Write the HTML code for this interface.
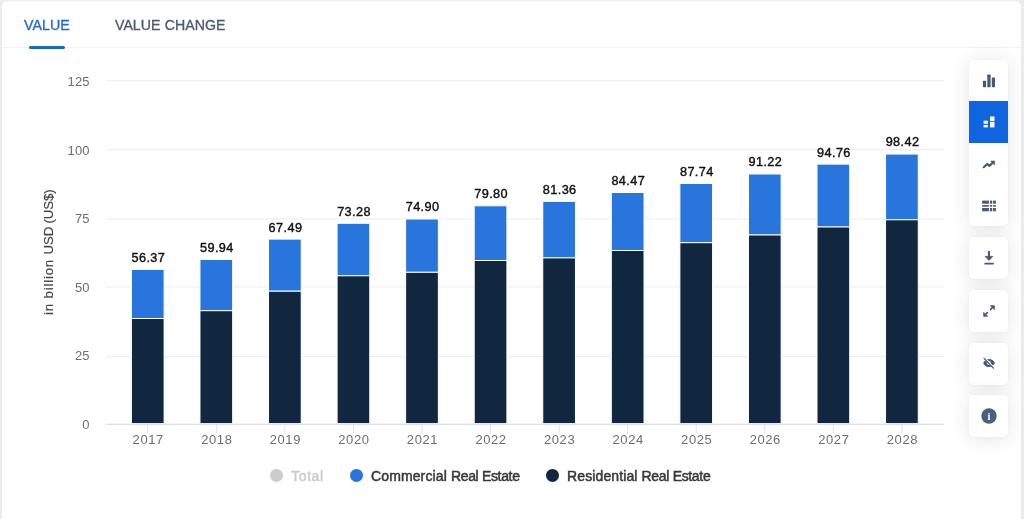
<!DOCTYPE html>
<html lang="en">
<head>
<meta charset="utf-8">
<title>Real Estate market value</title>
<style>
html,body{margin:0;padding:0;}
body{width:1024px;height:519px;overflow:hidden;background:#ececed;position:relative;font-family:"Liberation Sans",sans-serif;}
.card{position:absolute;left:2.3px;top:1px;width:1018.7px;height:540px;background:#fff;border-radius:5px 5px 0 0;}
.tab{position:absolute;top:14.6px;font-size:15px;line-height:20px;font-weight:400;white-space:nowrap;-webkit-text-stroke:0.35px currentColor;transform-origin:0 50%;}
.t1{left:24.2px;color:#1f6bc6;transform:scaleX(0.95);}
.t2{left:114.5px;color:#4b5b72;transform:scaleX(0.943);word-spacing:0.6px;}
.divider{position:absolute;left:2.3px;top:47px;width:1018.7px;height:1px;background:#f1f2f4;}
.ul{position:absolute;left:29px;top:46px;width:36px;height:3px;border-radius:1.5px;background:#1869c6;}
svg.chart{position:absolute;left:0;top:0;}
.ax{font-size:13px;fill:#6e6e6e;letter-spacing:0.2px;}
.xl{letter-spacing:0.6px;}
.dl{font-size:12.7px;fill:#111;letter-spacing:0.4px;stroke:#111;stroke-width:0.4px;}
.yt{font-size:13.3px;fill:#444;letter-spacing:0.37px;stroke:#444;stroke-width:0.15px;}
.lg{font-size:14px;letter-spacing:-0.12px;stroke-width:0.5px;}
.grp{position:absolute;left:969px;width:39px;background:#fff;border-radius:5px;box-shadow:0 2px 20px rgba(30,40,60,0.12),0 0 3px rgba(30,40,60,0.04);overflow:hidden;}
.btn{position:relative;width:39px;height:41.7px;}
.btn.first{height:40.6px;}
.btn.single{height:42px;}
.btn.on{background:#0f64df;}
.btn svg{position:absolute;left:50%;top:50%;transform:translate(-50%,-50%);}
</style>
</head>
<body>
<div class="card"></div>
<div class="divider"></div>
<div class="tab t1">VALUE</div>
<div class="tab t2">VALUE CHANGE</div>
<div class="ul"></div>
<svg class="chart" width="1024" height="519" viewBox="0 0 1024 519" font-family="'Liberation Sans', sans-serif">
<line x1="107" x2="944" y1="80.45" y2="80.45" stroke="#ebebed" stroke-width="1"/>
<line x1="107" x2="944" y1="149.70" y2="149.70" stroke="#ebebed" stroke-width="1"/>
<line x1="107" x2="944" y1="218.90" y2="218.90" stroke="#ebebed" stroke-width="1"/>
<line x1="107" x2="944" y1="286.90" y2="286.90" stroke="#ebebed" stroke-width="1"/>
<line x1="107" x2="944" y1="356.50" y2="356.50" stroke="#ebebed" stroke-width="1"/>
<text class="ax" x="89.8" y="429.00" text-anchor="end">0</text>
<text class="ax" x="89.8" y="360.41" text-anchor="end">25</text>
<text class="ax" x="89.8" y="291.82" text-anchor="end">50</text>
<text class="ax" x="89.8" y="223.24" text-anchor="end">75</text>
<text class="ax" x="89.8" y="154.65" text-anchor="end">100</text>
<text class="ax" x="89.8" y="86.06" text-anchor="end">125</text>
<rect x="131.40" y="269.40" width="32.7" height="49.10" fill="#2876dd" stroke="#fff" stroke-width="1"/>
<rect x="131.40" y="318.50" width="32.7" height="105.10" fill="#10273f" stroke="#fff" stroke-width="1"/>
<text class="dl" x="148.35" y="261.80" text-anchor="middle">56.37</text>
<line x1="147.75" x2="147.75" y1="424.25" y2="433.75" stroke="#e0e2ea" stroke-width="1"/>
<text class="ax xl" x="148.25" y="444.15" text-anchor="middle">2017</text>
<rect x="199.96" y="259.50" width="32.7" height="51.20" fill="#2876dd" stroke="#fff" stroke-width="1"/>
<rect x="199.96" y="310.70" width="32.7" height="112.90" fill="#10273f" stroke="#fff" stroke-width="1"/>
<text class="dl" x="216.91" y="251.90" text-anchor="middle">59.94</text>
<line x1="216.31" x2="216.31" y1="424.25" y2="433.75" stroke="#e0e2ea" stroke-width="1"/>
<text class="ax xl" x="216.81" y="444.15" text-anchor="middle">2018</text>
<rect x="268.52" y="239.10" width="32.7" height="52.10" fill="#2876dd" stroke="#fff" stroke-width="1"/>
<rect x="268.52" y="291.20" width="32.7" height="132.40" fill="#10273f" stroke="#fff" stroke-width="1"/>
<text class="dl" x="285.47" y="231.50" text-anchor="middle">67.49</text>
<line x1="284.87" x2="284.87" y1="424.25" y2="433.75" stroke="#e0e2ea" stroke-width="1"/>
<text class="ax xl" x="285.37" y="444.15" text-anchor="middle">2019</text>
<rect x="337.08" y="223.30" width="32.7" height="52.50" fill="#2876dd" stroke="#fff" stroke-width="1"/>
<rect x="337.08" y="275.80" width="32.7" height="147.80" fill="#10273f" stroke="#fff" stroke-width="1"/>
<text class="dl" x="354.03" y="215.70" text-anchor="middle">73.28</text>
<line x1="353.43" x2="353.43" y1="424.25" y2="433.75" stroke="#e0e2ea" stroke-width="1"/>
<text class="ax xl" x="353.93" y="444.15" text-anchor="middle">2020</text>
<rect x="405.64" y="219.00" width="32.7" height="53.30" fill="#2876dd" stroke="#fff" stroke-width="1"/>
<rect x="405.64" y="272.30" width="32.7" height="151.30" fill="#10273f" stroke="#fff" stroke-width="1"/>
<text class="dl" x="422.59" y="211.40" text-anchor="middle">74.90</text>
<line x1="421.99" x2="421.99" y1="424.25" y2="433.75" stroke="#e0e2ea" stroke-width="1"/>
<text class="ax xl" x="422.49" y="444.15" text-anchor="middle">2021</text>
<rect x="474.20" y="205.80" width="32.7" height="54.70" fill="#2876dd" stroke="#fff" stroke-width="1"/>
<rect x="474.20" y="260.50" width="32.7" height="163.10" fill="#10273f" stroke="#fff" stroke-width="1"/>
<text class="dl" x="491.15" y="198.20" text-anchor="middle">79.80</text>
<line x1="490.55" x2="490.55" y1="424.25" y2="433.75" stroke="#e0e2ea" stroke-width="1"/>
<text class="ax xl" x="491.05" y="444.15" text-anchor="middle">2022</text>
<rect x="542.76" y="201.40" width="32.7" height="56.50" fill="#2876dd" stroke="#fff" stroke-width="1"/>
<rect x="542.76" y="257.90" width="32.7" height="165.70" fill="#10273f" stroke="#fff" stroke-width="1"/>
<text class="dl" x="559.71" y="193.80" text-anchor="middle">81.36</text>
<line x1="559.11" x2="559.11" y1="424.25" y2="433.75" stroke="#e0e2ea" stroke-width="1"/>
<text class="ax xl" x="559.61" y="444.15" text-anchor="middle">2023</text>
<rect x="611.32" y="192.50" width="32.7" height="58.00" fill="#2876dd" stroke="#fff" stroke-width="1"/>
<rect x="611.32" y="250.50" width="32.7" height="173.10" fill="#10273f" stroke="#fff" stroke-width="1"/>
<text class="dl" x="628.27" y="184.90" text-anchor="middle">84.47</text>
<line x1="627.67" x2="627.67" y1="424.25" y2="433.75" stroke="#e0e2ea" stroke-width="1"/>
<text class="ax xl" x="628.17" y="444.15" text-anchor="middle">2024</text>
<rect x="679.88" y="183.50" width="32.7" height="59.20" fill="#2876dd" stroke="#fff" stroke-width="1"/>
<rect x="679.88" y="242.70" width="32.7" height="180.90" fill="#10273f" stroke="#fff" stroke-width="1"/>
<text class="dl" x="696.83" y="175.90" text-anchor="middle">87.74</text>
<line x1="696.23" x2="696.23" y1="424.25" y2="433.75" stroke="#e0e2ea" stroke-width="1"/>
<text class="ax xl" x="696.73" y="444.15" text-anchor="middle">2025</text>
<rect x="748.44" y="174.00" width="32.7" height="61.00" fill="#2876dd" stroke="#fff" stroke-width="1"/>
<rect x="748.44" y="235.00" width="32.7" height="188.60" fill="#10273f" stroke="#fff" stroke-width="1"/>
<text class="dl" x="765.39" y="166.40" text-anchor="middle">91.22</text>
<line x1="764.79" x2="764.79" y1="424.25" y2="433.75" stroke="#e0e2ea" stroke-width="1"/>
<text class="ax xl" x="765.29" y="444.15" text-anchor="middle">2026</text>
<rect x="817.00" y="164.10" width="32.7" height="62.90" fill="#2876dd" stroke="#fff" stroke-width="1"/>
<rect x="817.00" y="227.00" width="32.7" height="196.60" fill="#10273f" stroke="#fff" stroke-width="1"/>
<text class="dl" x="833.95" y="156.50" text-anchor="middle">94.76</text>
<line x1="833.35" x2="833.35" y1="424.25" y2="433.75" stroke="#e0e2ea" stroke-width="1"/>
<text class="ax xl" x="833.85" y="444.15" text-anchor="middle">2027</text>
<rect x="885.56" y="154.05" width="32.7" height="65.75" fill="#2876dd" stroke="#fff" stroke-width="1"/>
<rect x="885.56" y="219.80" width="32.7" height="203.80" fill="#10273f" stroke="#fff" stroke-width="1"/>
<text class="dl" x="902.51" y="146.45" text-anchor="middle">98.42</text>
<line x1="901.91" x2="901.91" y1="424.25" y2="433.75" stroke="#e0e2ea" stroke-width="1"/>
<text class="ax xl" x="902.41" y="444.15" text-anchor="middle">2028</text>
<line x1="106" x2="944" y1="424.25" y2="424.25" stroke="#cfd4e2" stroke-width="1.1"/>
<text class="yt" transform="translate(53.2,252.3) rotate(-90)" text-anchor="middle"><tspan style="letter-spacing:0.8px">in billion </tspan><tspan style="letter-spacing:-0.18px">USD (US$)</tspan></text>
<circle cx="276.5" cy="475.4" r="6.5" fill="#cccccc"/>
<text class="lg" x="291.3" y="481.4" fill="#cccccc" stroke="#cccccc" style="letter-spacing:0.55px">Total</text>
<circle cx="356.5" cy="475.4" r="6.5" fill="#2876dd"/>
<text class="lg" x="371" y="481.4" fill="#383838" stroke="#383838"><tspan style="letter-spacing:0.12px">Commercial </tspan><tspan style="letter-spacing:-0.33px">Real Estate</tspan></text>
<circle cx="552.5" cy="475.4" r="6.5" fill="#10273f"/>
<text class="lg" x="567" y="481.4" fill="#383838" stroke="#383838"><tspan style="letter-spacing:0.12px">Residential </tspan><tspan style="letter-spacing:-0.33px">Real Estate</tspan></text>
</svg>

<div class="grp" style="top:60.4px;height:165.7px;">
  <div class="btn first"><svg width="14" height="14" viewBox="0 0 14 14"><rect x="0.9" y="6.7" width="3.2" height="6.5" rx="0.6" fill="#465a74"/><rect x="5.3" y="0.6" width="3.3" height="12.6" rx="0.6" fill="#465a74"/><rect x="9.8" y="3.6" width="3.2" height="9.6" rx="0.6" fill="#465a74"/></svg></div>
  <div class="btn on"><svg width="14" height="14" viewBox="0 0 14 14"><rect x="1.6" y="5.7" width="4.3" height="3.1" fill="#fff"/><rect x="1.6" y="9.9" width="4.3" height="2.5" fill="#fff"/><rect x="8" y="1.5" width="4.5" height="4.4" fill="#fff"/><rect x="8" y="6.8" width="4.5" height="5.6" fill="#fff"/></svg></div>
  <div class="btn"><svg width="14" height="14" viewBox="0 0 14 14"><path d="M1.8 10.2 L5.2 7 L7.5 8.8 L10.8 5.6" fill="none" stroke="#465a74" stroke-width="2.2" stroke-linecap="round" stroke-linejoin="round"/><path d="M8.8 4 H12.6 V7.9 Z" fill="#465a74" stroke="#465a74" stroke-width="0.6" stroke-linejoin="round"/></svg></div>
  <div class="btn"><svg width="14" height="12" viewBox="0 0 14 12" style="margin-top:0.5px"><g fill="#465a74"><rect x="0.1" y="0.6" width="6.8" height="3.1"/><rect x="7.9" y="0.6" width="2.3" height="3.1"/><rect x="11.1" y="0.6" width="2.8" height="3.1"/><rect x="0.1" y="5.1" width="6.8" height="1.6"/><rect x="7.9" y="5.1" width="2.3" height="1.6"/><rect x="11.1" y="5.1" width="2.8" height="1.6"/><rect x="0.1" y="8" width="6.8" height="3.3"/><rect x="7.9" y="8" width="2.3" height="3.3"/><rect x="11.1" y="8" width="2.8" height="3.3"/></g></svg></div>
</div>
<div class="grp" style="top:237px;"><div class="btn single"><svg width="14" height="14" viewBox="0 0 14 14"><path d="M7 0.8 V7" fill="none" stroke="#465a74" stroke-width="2.1" stroke-linecap="round"/><path d="M3.2 5.4 H10.8 L7 9.4 Z" fill="#465a74" stroke="#465a74" stroke-width="0.8" stroke-linejoin="round"/><rect x="2.4" y="11.7" width="9.4" height="1.9" rx="0.6" fill="#465a74"/></svg></div></div>
<div class="grp" style="top:289.8px;"><div class="btn single"><svg width="14" height="14" viewBox="0 0 14 14"><g fill="#465a74" stroke="#465a74" stroke-width="1.6" stroke-linecap="round"><path d="M8.6 5.4 L11.5 2.5" fill="none"/><path d="M8.7 1.7 H12.3 V5.3 Z" stroke-width="0.8" stroke-linejoin="round"/><path d="M5.4 8.6 L2.5 11.5" fill="none"/><path d="M1.7 8.7 V12.3 H5.3 Z" stroke-width="0.8" stroke-linejoin="round"/></g></svg></div></div>
<div class="grp" style="top:342.5px;"><div class="btn single"><svg width="13.6" height="11.9" viewBox="0 0 16 14" style="margin-top:-0.5px"><path d="M1 7 C3 3.2 5.6 2.2 8 2.2 C10.4 2.2 13 3.2 15 7 C13 10.8 10.4 11.8 8 11.8 C5.6 11.8 3 10.8 1 7 Z" fill="#465a74"/><circle cx="8" cy="7" r="2.4" fill="#fff"/><circle cx="8.6" cy="7.3" r="1.5" fill="#465a74"/><path d="M2.6 1.2 L13.6 12.8" stroke="#fff" stroke-width="2.6"/><path d="M2.2 1.6 L13.2 13" stroke="#465a74" stroke-width="1.5" stroke-linecap="round"/></svg></div></div>
<div class="grp" style="top:395px;"><div class="btn single"><svg width="16" height="16" viewBox="0 0 16 16" style="margin-left:0.3px;margin-top:-0.3px"><circle cx="8" cy="8" r="7.7" fill="#47607f"/><text x="7.9" y="11.7" text-anchor="middle" font-family="'Liberation Serif', serif" font-weight="bold" font-size="10.5" fill="#fff">i</text></svg></div></div>
</body>
</html>
